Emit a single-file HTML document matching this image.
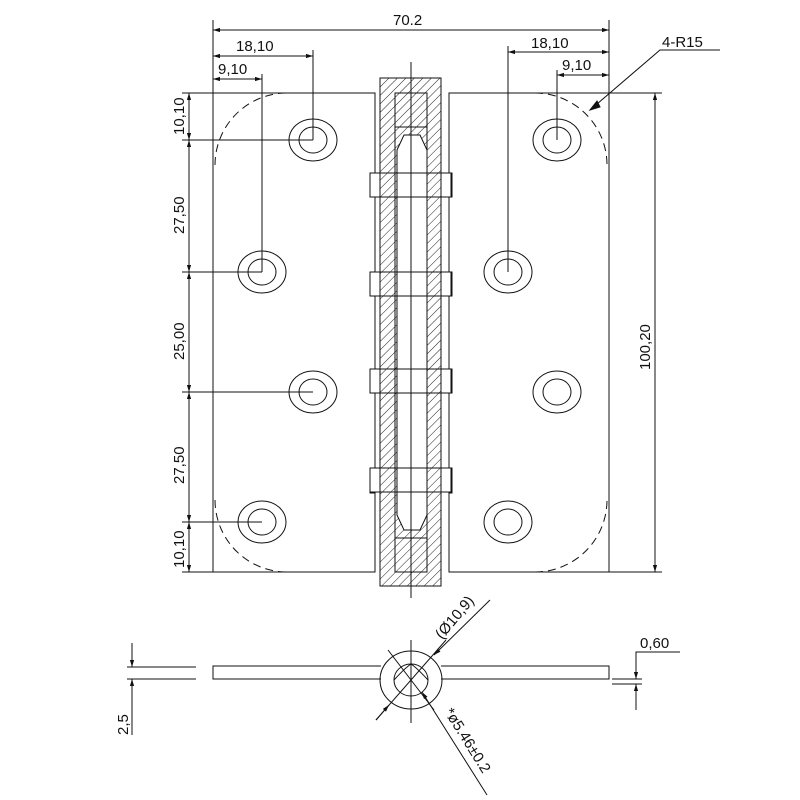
<!DOCTYPE html>
<html><head><meta charset="utf-8"><style>
html,body{margin:0;padding:0;background:#fff}
svg{display:block}
text{font-family:"Liberation Sans",sans-serif;font-size:15px;fill:#111}
</style></head><body>
<svg width="800" height="800" viewBox="0 0 800 800" xmlns="http://www.w3.org/2000/svg">
<defs>
<pattern id="h" width="6" height="6" patternUnits="userSpaceOnUse" patternTransform="rotate(45)">
<line x1="0" y1="0" x2="0" y2="6" stroke="#222" stroke-width="1"/>
</pattern>
<marker id="a" viewBox="0 0 10 10" refX="10" refY="5" markerWidth="10" markerHeight="7" orient="auto-start-reverse" markerUnits="userSpaceOnUse">
<path d="M0,2 L10,5 L0,8 z" fill="#111"/>
</marker>
</defs>
<g stroke="#111" stroke-width="1" fill="none">
<path d="M375,93 H213 V572 H375 V493 H370 V468 H375 V393 H370 V369 H375 V296 H370 V272 H375 V197 H370 V173 H375 Z"/>
<path d="M449,93 H609 V572 H449 V493 H452 V468 H449 V393 H452 V369 H449 V296 H452 V272 H449 V197 H452 V173 H449 Z"/>
<g stroke-dasharray="8,5">
<path d="M215,165 A72,72 0 0 1 287,93"/>
<path d="M215,500 A72,72 0 0 0 287,572"/>
<path d="M535,93 A72,72 0 0 1 607,165"/>
<path d="M535,572 A72,72 0 0 0 607,500"/>
</g>
<g>
<ellipse cx="313" cy="140" rx="24" ry="21"/><ellipse cx="313" cy="140" rx="14" ry="13"/>
<ellipse cx="262" cy="272" rx="24" ry="21"/><ellipse cx="262" cy="272" rx="14" ry="13"/>
<ellipse cx="313" cy="392" rx="24" ry="21"/><ellipse cx="313" cy="392" rx="14" ry="13"/>
<ellipse cx="262" cy="522" rx="24" ry="21"/><ellipse cx="262" cy="522" rx="14" ry="13"/>
<ellipse cx="557" cy="140" rx="24" ry="21"/><ellipse cx="557" cy="140" rx="14" ry="13"/>
<ellipse cx="508" cy="272" rx="24" ry="21"/><ellipse cx="508" cy="272" rx="14" ry="13"/>
<ellipse cx="557" cy="392" rx="24" ry="21"/><ellipse cx="557" cy="392" rx="14" ry="13"/>
<ellipse cx="508" cy="522" rx="24" ry="21"/><ellipse cx="508" cy="522" rx="14" ry="13"/>
</g>
<rect x="380" y="78" width="61" height="508" fill="url(#h)"/>
<path d="M395,127 V538 M427,127 V538" />
<path d="M397,150 L404,135 H420 L427,150 V515 L420,530 H404 L397,515 Z" fill="#fff" stroke="#111"/>
<rect x="395" y="93" width="32" height="34"/>
<rect x="395" y="538" width="32" height="34"/>
<rect x="370" y="173" width="81" height="24"/>
<rect x="370" y="272" width="81" height="24"/>
<rect x="370" y="369" width="81" height="24"/>
<rect x="370" y="468" width="81" height="24"/>
<line x1="411" y1="62" x2="411" y2="598"/>
<line x1="213" y1="20" x2="213" y2="93"/>
<line x1="609" y1="20" x2="609" y2="93"/>
<line x1="213" y1="30" x2="609" y2="30" marker-start="url(#a)" marker-end="url(#a)"/>
<line x1="313" y1="50" x2="313" y2="140"/>
<line x1="213" y1="56" x2="313" y2="56" marker-start="url(#a)" marker-end="url(#a)"/>
<line x1="262" y1="74" x2="262" y2="272"/>
<line x1="213" y1="79" x2="262" y2="79" marker-start="url(#a)" marker-end="url(#a)"/>
<line x1="508" y1="46" x2="508" y2="272"/>
<line x1="508" y1="52" x2="609" y2="52" marker-start="url(#a)" marker-end="url(#a)"/>
<line x1="557" y1="70" x2="557" y2="140"/>
<line x1="557" y1="75" x2="609" y2="75" marker-start="url(#a)" marker-end="url(#a)"/>
<polyline points="720,50 660,50 590,110" />
<path d="M590,110 l10,-3 l-3,-6 z" fill="#111"/>
<line x1="182" y1="93" x2="213" y2="93"/>
<line x1="182" y1="140" x2="313" y2="140"/>
<line x1="182" y1="272" x2="262" y2="272"/>
<line x1="182" y1="392" x2="313" y2="392"/>
<line x1="182" y1="522" x2="262" y2="522"/>
<line x1="182" y1="572" x2="213" y2="572"/>
<line x1="189" y1="93" x2="189" y2="140" marker-start="url(#a)" marker-end="url(#a)"/>
<line x1="189" y1="140" x2="189" y2="272" marker-start="url(#a)" marker-end="url(#a)"/>
<line x1="189" y1="272" x2="189" y2="392" marker-start="url(#a)" marker-end="url(#a)"/>
<line x1="189" y1="392" x2="189" y2="522" marker-start="url(#a)" marker-end="url(#a)"/>
<line x1="189" y1="522" x2="189" y2="572" marker-start="url(#a)" marker-end="url(#a)"/>
<line x1="609" y1="93" x2="662" y2="93"/>
<line x1="609" y1="572" x2="662" y2="572"/>
<line x1="655" y1="93" x2="655" y2="572" marker-start="url(#a)" marker-end="url(#a)"/>
<line x1="127" y1="667" x2="196" y2="667"/>
<line x1="127" y1="679" x2="196" y2="679"/>
<line x1="132" y1="643" x2="132" y2="667" marker-end="url(#a)"/>
<line x1="132" y1="735" x2="132" y2="679" marker-end="url(#a)"/>
<path d="M381,666 H213 V679 H381"/>
<path d="M441,666 H609 V679 H441"/>
<line x1="612" y1="679" x2="642" y2="679"/>
<line x1="612" y1="684" x2="642" y2="684"/>
<polyline points="680,652 636,652 636,679" marker-end="url(#a)"/>
<line x1="636" y1="710" x2="636" y2="684" marker-end="url(#a)"/>
<ellipse cx="411" cy="680" rx="31" ry="29"/>
<ellipse cx="411" cy="680" rx="17" ry="16"/>
<path d="M394,680 Q405,668 411,664 Q417,668 428,680" />
<line x1="411" y1="640" x2="411" y2="723"/>
<line x1="388" y1="650" x2="434" y2="710"/>
<line x1="376" y1="720" x2="446" y2="640"/>
<line x1="490" y1="600" x2="434" y2="655" marker-end="url(#a)"/>
<line x1="376" y1="720" x2="389" y2="705" marker-end="url(#a)"/>
<line x1="487" y1="795" x2="422" y2="692" marker-end="url(#a)"/>
</g>
<text x="393" y="25">70.2</text>
<text x="236" y="51">18,10</text>
<text x="218" y="74">9,10</text>
<text x="531" y="48">18,10</text>
<text x="562" y="70">9,10</text>
<text x="662" y="47">4-R15</text>
<text transform="translate(184,135) rotate(-90)">10,10</text>
<text transform="translate(184,234) rotate(-90)">27,50</text>
<text transform="translate(184,360) rotate(-90)">25,00</text>
<text transform="translate(184,484) rotate(-90)">27,50</text>
<text transform="translate(184,568) rotate(-90)">10,10</text>
<text transform="translate(650,370) rotate(-90)">100,20</text>
<text transform="translate(128,735) rotate(-90)">2,5</text>
<text x="640" y="648">0,60</text>
<text transform="translate(442,640) rotate(-50)">(Ø10,9)</text>
<text transform="translate(444,712) rotate(58)">*ø5.46±0.2</text>
</svg>
</body></html>
